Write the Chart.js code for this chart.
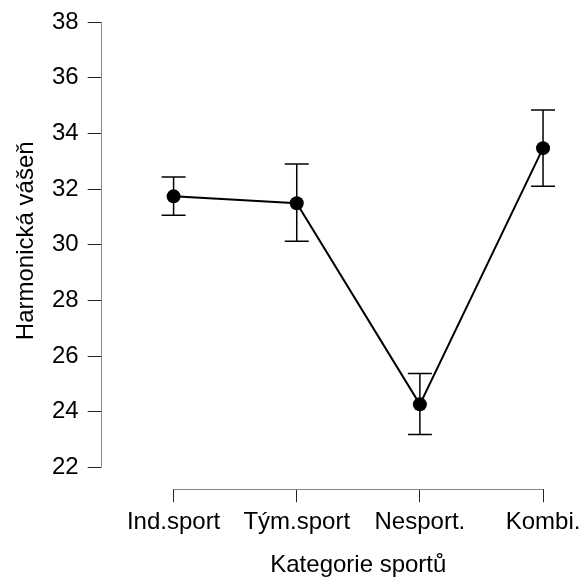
<!DOCTYPE html>
<html>
<head>
<meta charset="utf-8">
<script src="https://cdn.jsdelivr.net/npm/chart.js@4/dist/chart.umd.min.js"></script>
<style>
  html, body { margin: 0; padding: 0; background: #fff; }
  canvas { display: block; }
</style>
</head>
<body>
<canvas id="chart" width="584" height="579"></canvas>
<script>
// ── data ──
const categories = ["Ind.sport", "Tým.sport", "Nesport.", "Kombi."];
const means = [31.74, 31.49, 24.27, 33.47];
const lower = [31.06, 30.13, 23.19, 32.10];
const upper = [32.43, 32.90, 25.38, 34.84];
const yTicks = [22, 24, 26, 28, 30, 32, 34, 36, 38];
const xTitle = "Kategorie sportů";
const yTitle = "Harmonická vášeň";

const xs = categories.map((_, i) => i + 1);
const fontFamily = "'Liberation Sans', Arial, sans-serif";
const font = { family: fontFamily, size: 24 };

// one stem per category
const stems = xs.map((x, i) => ({
  type: "scatter",
  showLine: true,
  data: [{ x, y: lower[i] }, { x, y: upper[i] }],
  borderColor: "#000",
  borderWidth: 1.5,
  pointRadius: 0,
  order: 3
}));

// R-like axes: lines only between first and last tick, titles centred on the data range
const rAxes = {
  id: "rAxes",
  afterDraw(chart) {
    const { ctx, chartArea, scales } = chart;
    ctx.save();
    ctx.strokeStyle = "#888";
    ctx.lineWidth = 1;
    ctx.beginPath();
    const xl = Math.round(chartArea.left) + 0.5;
    ctx.moveTo(xl, scales.y.getPixelForValue(yTicks[0]));
    ctx.lineTo(xl, scales.y.getPixelForValue(yTicks[yTicks.length - 1]));
    const yb = Math.round(chartArea.bottom) + 0.5;
    ctx.moveTo(scales.x.getPixelForValue(xs[0]), yb);
    ctx.lineTo(scales.x.getPixelForValue(xs[xs.length - 1]), yb);
    ctx.stroke();

    ctx.fillStyle = "#000";
    ctx.font = `24px ${fontFamily}`;
    ctx.textAlign = "center";
    ctx.textBaseline = "alphabetic";
    const xMid = (scales.x.getPixelForValue(xs[0]) + scales.x.getPixelForValue(xs[xs.length - 1])) / 2;
    ctx.fillText(xTitle, xMid, chart.height - 7);

    const yMid = (chartArea.top + scales.y.getPixelForValue(yTicks[0])) / 2;
    ctx.translate(33, yMid);
    ctx.rotate(-Math.PI / 2);
    ctx.fillText(yTitle, 0, 0);
    ctx.restore();
  }
};

// labels fit inside the canvas anyway, so drop the auto edge padding
const noEdgePad = s => { s.paddingTop = 0; s.paddingBottom = 0; s.paddingLeft = 0; s.paddingRight = 0; };

new Chart(document.getElementById("chart"), {
  type: "scatter",
  data: {
    datasets: [
      {
        data: xs.map((x, i) => ({ x, y: means[i] })),
        showLine: true,
        borderColor: "#000",
        borderWidth: 2,
        backgroundColor: "#000",
        pointRadius: 7,
        pointBorderWidth: 0,
        order: 1
      },
      {
        data: xs.flatMap((x, i) => [{ x, y: lower[i] }, { x, y: upper[i] }]),
        pointStyle: "line",
        pointRadius: 12,
        pointBorderWidth: 1.5,
        borderColor: "#000",
        order: 2
      },
      ...stems
    ]
  },
  options: {
    responsive: false,
    animation: false,
    // room for the two axis titles drawn by rAxes
    layout: { padding: { top: 14, right: 14, left: 43, bottom: 36 } },
    plugins: { legend: { display: false }, tooltip: { enabled: false } },
    scales: {
      x: {
        type: "linear",
        min: 0.408,
        max: 4.219,
        afterBuildTicks: s => { s.ticks = xs.map(v => ({ value: v })); },
        afterFit: noEdgePad,
        ticks: {
          color: "#000", font, padding: 6, maxRotation: 0, autoSkip: false,
          callback: v => categories[v - 1]
        },
        grid: { drawOnChartArea: false, tickLength: 13, color: "#222", lineWidth: 1 },
        border: { display: false }
      },
      y: {
        min: 21.223,
        max: 38.288,
        afterBuildTicks: s => { s.ticks = yTicks.map(v => ({ value: v })); },
        afterFit: noEdgePad,
        ticks: { color: "#000", font, padding: 9 },
        grid: { drawOnChartArea: false, tickLength: 13, color: "#222", lineWidth: 1 },
        border: { display: false }
      }
    }
  },
  plugins: [rAxes]
});
</script>
</body>
</html>
